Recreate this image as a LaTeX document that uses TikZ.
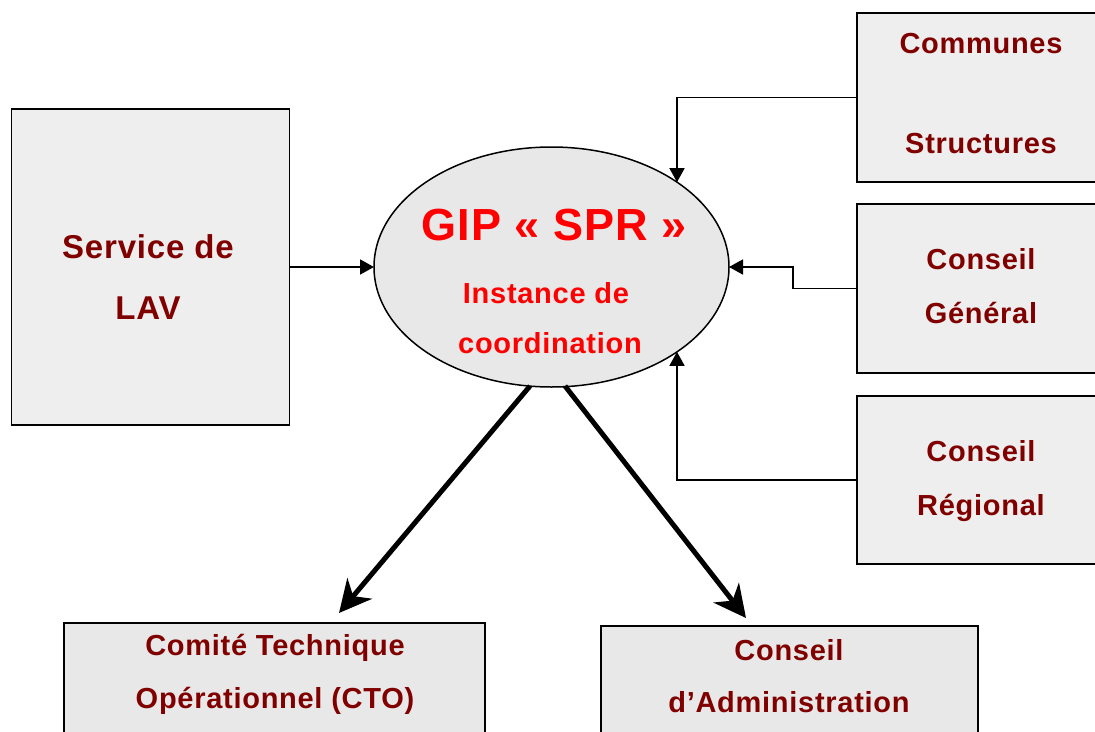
\documentclass[tikz,border=0pt]{standalone}
\usepackage{fontspec}
\setmainfont{Liberation Sans}[LetterSpace=2.5]
\usetikzlibrary{arrows.meta,shapes.geometric}
\definecolor{darkred}{HTML}{800000}
\definecolor{brightred}{HTML}{FF0000}
\definecolor{flatfill}{HTML}{EEEEEE}
\definecolor{grainfill}{HTML}{E8E8E8}
\begin{document}
\begin{tikzpicture}[x=1pt,y=-1pt,
  box/.style={draw=black, line width=1.6pt, fill=flatfill, rectangle, inner sep=0pt, outer sep=0pt},
  grainbox/.style={box, fill=grainfill},
  lbl/.style={anchor=base, inner sep=0pt, text=darkred, font=\bfseries\fontsize{29}{35}\selectfont},
  biglbl/.style={lbl, font=\bfseries\fontsize{33}{40}\selectfont},
  redlbl/.style={lbl, text=brightred},
  titlelbl/.style={redlbl, font=\bfseries\fontsize{45}{54}\selectfont},
  feed/.style={line width=1.7pt, -{Triangle[length=14pt,width=15pt]}},
  output/.style={line width=5pt, -{Stealth[length=32pt,width=32pt,inset=10pt]}}]

\useasboundingbox (0,0) rectangle (1095,731);
\clip (0,0) rectangle (1095,731);

% boxes and the central ellipse
\node[box, minimum width=278pt, minimum height=316pt] (lav) at (150.5,267) {};
\node[box, minimum width=253pt, minimum height=169pt] (com) at (983.5,97.5) {};
\node[box, minimum width=253pt, minimum height=169pt] (gen) at (983.5,288.5) {};
\node[box, minimum width=253pt, minimum height=168pt] (reg) at (983.5,480) {};
\node[grainbox, minimum width=421pt, minimum height=127pt] (cto) at (274.5,686.5) {};
\node[grainbox, minimum width=377pt, minimum height=124pt] (ca) at (789.5,688) {};
\node[draw=black, line width=1.5pt, fill=grainfill, ellipse, inner sep=0pt, outer sep=0pt,
      minimum width=355pt, minimum height=240pt] (ell) at (551.5,267) {};

% labels
\node[biglbl] (lav1) at (148,258) {Service de};
\node[biglbl] (lav2) at (148,319) {LAV};
\node[titlelbl] (ell1) at (554,240) {GIP « SPR »};
\node[redlbl] (ell2) at (546,303) {Instance de};
\node[redlbl] (ell3) at (550,353) {coordination};
\node[lbl] (com1) at (981,53) {Communes};
\node[lbl] (com2) at (981,153) {Structures};
\node[lbl] (gen1) at (981,269) {Conseil};
\node[lbl] (gen2) at (981,323) {Général};
\node[lbl] (reg1) at (981,461) {Conseil};
\node[lbl] (reg2) at (981,515) {Régional};
\node[lbl] (cto1) at (275,655) {Comité Technique};
\node[lbl] (cto2) at (275,708) {Opérationnel (CTO)};
\node[lbl] (ca1) at (789,660) {Conseil};
\node[lbl] (ca2) at (789,712) {d’Administration};

% incoming links
\draw[feed] (lav.east) -- (ell.west);
\draw[feed] (com.west) -| (ell.north east);
\coordinate (genbend) at (793,288.5);
\draw[feed] (gen.west) -- (genbend) |- (ell.east);
\draw[feed] (reg.west) -| (ell.south east);

% outgoing links
\coordinate (o1s) at (530,386);
\coordinate (o1e) at (339,613);
\coordinate (o2s) at (565,386);
\coordinate (o2e) at (746,618);
\draw[output] (o1s) -- (o1e);
\draw[output] (o2s) -- (o2e);
\end{tikzpicture}
\end{document}
